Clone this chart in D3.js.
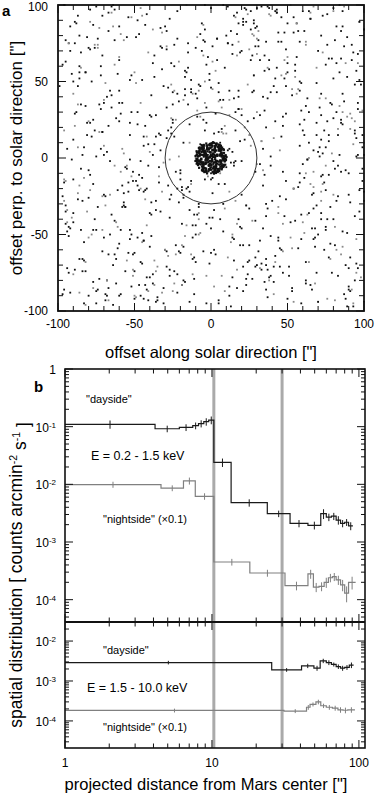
<!DOCTYPE html>
<html>
<head>
<meta charset="utf-8">
<script src="https://cdn.jsdelivr.net/npm/d3@7"></script>
<style>
  body { margin: 0; background: #fff; }
  svg { display: block; font-family: "Liberation Sans", Arial, Helvetica, sans-serif; }
</style>
</head>
<body>
<div id="chart"></div>
<script>
// ---- panel a: photon positions ----
// field photons, "xxyy": x and y on a 00..99 grid spanning -99..99 arcsec
const photonsFieldA = `
4783 0312 8857 2134 6591 1206 9368 3845 5622 7179 2903 8461 0638 6095 4417 9750 1574 7729 3386 5241
1927 7464 4109 9088 0843 6371 2715 5552 8297 3636 0180 6924 9559 4802 1367 8644 2413 5890 7931 3176
6655 1193 8338 3519 5072 9401 2246 0784 7328 4563 6110 1799 8951 3935 0477 7820 5366 2808 9942 4287
2504 5747 0281 8062 4625 1496 6833 9157 3214 7670 0989 5441 3706 8753 2026 6492 4318 9875 1660 7237
8569 3031 6216 1898 9654 4040 0587 7511 5178 2323 8149 6765 1094 4930 9282 3407 7056 2639 5921 0073
1392 5258 7974 4405 2836 6783 9021 0767 3649 6108 8434 1977 5517 0288 7345 4861 9602 3154 1098 8726
5813 9386 2442 7171 0560 3919 8295 5030 1603 9756 4372 6615 2984 7840 1109 5479 8747 3591 6233 2064
3448 0822 6699 9137 5311 2775 1458 7606 4589 8844 0327 6093 3862 7220 9953 2135 5081 8412 1770 6804
7776 4240 1503 5955 8684 0228 7014 3392 9463 2418 5796 1250 8131 4673 6586 3024 0667 9245 4008 5359
0430 6971 3762 8323 2247 5691 9839 4176 1107 7485 2954 8912 5268 1697 3514 8043 6329 0961 4788 9517
9159 2608 5587 1044 7319 4866 3402 8651 6134 0594 3821 7780 2045 9506 4371 6899 1437 5716 8352 3183
4021 8295 1829 6778 9965 1310 5984 2743 7672 4431 9262 0105 6390 3556 5038 8817 2574 7197 0726 5648
6285 1537 8550 3611 4793 8057 0324 6869 2216 5748 1483 7436 9003 4279 2860 6588 9712 1141 4975 3332
2906 7363 5118 9489 0932 6445 4178 1920 8399 3761 7009 5274 0653 8727 6094 2349 4565 7923 9601 1691
8641 4880 0696 2326 7872 3203 9261 5587 1039 6613 4170 9946 2722 7198 1818 8457 5883 0234 3767 6310
1797 6014 9535 4267 3108 8882 6947 1226 5358 8091 2542 4719 7477 0564 3630 9305 2151 6486 4915 8169
5433 3352 7073 0802 6257 2138 4690 9715 3981 1505 8566 2893 5828 9111 4375 0746 7620 3063 6744 1299
9564 1126 4410 8149 2796 5723 1607 7360 0242 4977 6417 8855 3586 1939 7902 5271 9894 4028 2357 6813
3818 7891 2644 6383 9027 4569 0853 3035 6996 9425 1888 5601 8340 4172 0449 7214 1358 6006 8780 4762
0779 5203 8967 1731 3950 7514 6198 8474 2411 3357 9832 1085 4663 6709 2289 5927 8241 3695 1419 9147
7252 2375 6021 9894 5406 0387 2839 4548 8769 1202 7778 6429 3116 9684 5043 1766 4008 8553 0636 2690
4811 9046 3585 1458 6879 8333 2005 5897 4124 7965 0513 3771 9399 2445 6221 8982 5460 1618 7473 0137
2090 6519 0232 7607 4341 1162 9476 3613 6655 5086 2947 8208 1534 5769 8696 4531 0387 6950 3204 9778
8345 3968 7197 3070 9723 5599 4828 0957 1880 6134 9291 2361 7005 4342 0816 3473 8025 2589 5164 6414
1426 5807 4654 8739 2188 6911 3566 7442 9218 0673 5202 4039 8479 2725 9957 6194 1847 7312 4284 1061`;

// second exposure: same "xxyy" format on a grid shifted by half a cell (-98..100 arcsec)
const photonsFieldB = `
6173 0384 8015 5325 3662 1648 7793 2403 4767 8821 1056 7187 3243 6414 1981 9609 5735 4470 8529 2896
3338 9630 1971 6492 0801 9177 5019 1365 8044 3897 6730 2523 5568 9991 4533 0252 7276 3102 1158 8320
7602 2756 5446 0213 8535 4054 6281 8929 3091 1509 7375 4944 0815 3657 9406 6640 2698 8761 5937 4485
0961 7097 3888 9260 4774 2307 0442 5683 7131 9750 3419 6098 1982 8237 5368 1423 4311 6547 9092 2753
5795 4424 1206 6881 8115 3492 9657 2910 6376 0141 8563 2033 4524 7403 1185 3870 9954 5229 0716 7844
9220 1961 6759 3135 1453 5926 7871 4238 0605 5188 2648 9413 6896 1376 8729 4758 3390 8066 2241 5507
2667 8543 4327 7997 6389 0564 3712 9991 2052 7017 4882 1569 8937 3050 5610 7695 0923 4139 6878 0431
6809 0689 9080 2418 5244 8131 1799 6055 4127 8962 0305 5552 3673 7219 2564 9314 6483 1808 4645 8570
4254 6115 2839 5764 9506 3385 6935 1074 7793 2238 5871 8326 0158 4787 7947 3132 1468 9297 3811 6522
8087 3572 7493 1129 4068 6716 2560 9407 5346 4684 1624 7190 9810 2133 6291 0877 8703 5651 2963 9938
0135 5334 9902 4573 1828 8658 5686 3246 6513 0866 9199 3942 7381 5963 2722 8206 4449 0474 7690 3756
4571 8998 3163 6652 7482 0904 4323 2133 9661 5829 3540 0675 6253 8008 1437 5188 7015 2324 8867 1701
8816 1450 5748 3805 2639 7295 9270 4918 1285 8451 6787 4316 2827 0392 9673 3944 6196 7860 5032 0679
2343 6706 0877 9586 6059 4742 3011 8164 5538 2703 7958 1467 5007 8948 4202 7061 0232 3680 9713 5893
6488 4177 8424 2040 3517 9873 1352 6581 0470 9292 4415 7330 1792 5571 3156 8619 2477 4942 0199 7528
1024 7639 4791 6161 8997 2920 5489 0225 8402 3945 2067 9783 6645 1816 7887 4534 3305 5869 9150 2364
5357 2218 9345 0616 7133 1551 8531 4799 2856 6376 8833 3257 0411 7480 4926 1992 9562 6714 3786 8009
9780 5865 2112 8484 4370 6297 0945 3839 7523 1714 5181 2604 9264 4036 6898 0455 7928 1379 5623 3241
3112 0428 6669 4946 1509 9035 7477 5758 2395 9935 0750 8197 4531 3659 8641 6111 1286 9437 2806 7075
7599 4693 3637 9658 2951 5268 1904 8786 6447 4260 7122 5948 1186 8323 2412 9767 4843 0593 6371 3918
1637 8154 5984 2722 9380 0712 6563 4009 3419 7782 0106 4972 8538 2295 5865 3080 9019 7256 4448 1288
5965 2810 0326 7390 5624 8589 4232 1671 9166 3008 6393 1921 5457 7874 0735 9303 3771 8226 2594 6734
3708 9581 7853 1233 6464 2146 8796 7123 0640 5399 4037 9064 2404 7841 3378 4850 7639 0985 8402 5057
8149 0936 4998 8975 0142 4427 2615 6394 5887 8555 2376 6810 4199 9765 1504 7287 5563 2931 0677 9225
0228 6362 2540 5504 8086 3779 9950 1862 4529 6626 9444 3558 7770 0812 5254 2738 8308 6498 4020 1967`;

// photons from the Mars disk, "rraa": radius (rr * 0.105") and position angle (aa * 3.6 deg)
const photonsDisk = `
9512 3047 7723 8865 4190 6631 9978 5804 2256 8419 7137 9353 6082 3871
8826 5558 9391 7004 4539 9617 6274 8148 3385 7762 9943 5429 8097 2618
7310 9684 6052 8733 5121 9266 4476 8590 7041 9815 6358 3007 8869 9530
6694 8211 9748 5385 7926 4663 9002 8357 6819 9135 7473 5040 8686 3152
9258 7701 5932 8578 9420 6945 8064 4308 7619 9787 6226 8840 5493 9971
4817 8955 7282 9516 6638 8003 5759 9224 7190 3844 8472 9661 6907 8127
9839 6379 8512 7056 9147 5288 8925 7630 9492 4675 8216 6753 9388 7820
5961 9034 7407 8299 6184 9719 7944 8651 3526 9097 6712 8438 7268 9582
8783 6419 9853 5071 8330 7592 9266 6128 8896 4743 9410 7980 6545 8169
9622 7345 8057 9935 5617 8706 6993 9179 7824 8452 4288 9565 7713 6036
8441 9880 6251 7598 9303 5839 8970 7112 9656 6389 8735 5022 9199 7466
7172 8537 9714 6896 8026 9444 7559 5163 9768 8301 6624 9077 7937 8690
9046 6702 8819 7281 9590 5344 8148 9923 6461 8877 7006 9333 5715 8542
6863 9498 7635 8184 5906 9051 8427 6778 9216 7399 8653 9782 6130 7514
9701 8088 5580 9467 7866 8343 6219 9638 8010 7754 9184 5996 8565 7247
8326 9157 7040 8614 9893 6583 8792 7375 9509 5237 8981 7680 9269 6456
1545 3012 2378 4561 0890 3627 4733 1969 2844 3981 4205 1132 2715 3555
4088 2659 3340 1517 4922 2795 3863 0743 4407 2126 3692 4870 1684 3218
2966 4139 1851 3474 4647 2502 3006 4393 1224 3757 2080 4616 3929 1408`;

const extractionRadius = 30;
const offsetTicks = [-100, -50, 0, 50, 100];

// ---- panel b: radial profiles (bin edges ["], values [counts arcmin^-2 s^-1]) ----
const softDayEdges = [1, 4.1, 6.0, 7.4, 8.1, 8.8, 9.5, 10.3, 13.5, 23.8, 34, 45, 55, 60, 65, 70, 75, 80, 85, 91];
const softDayValues = [0.11, 0.092, 0.097, 0.104, 0.113, 0.122, 0.13, 0.024, 0.0048, 0.0031, 0.0021, 0.00195, 0.0031, 0.0027, 0.0028, 0.0024, 0.0021, 0.0022, 0.0019];
const softDayErrors = [0.018, 0.012, 0.013, 0.014, 0.016, 0.018, 0.02, 0.004, 0.0007, 0.0004, 0.0003, 0.0003, 0.0006, 0.0004, 0.0004, 0.0004, 0.0003, 0.0003, 0.0003];

const softNightEdges = [1, 4.5, 6.4, 7.7, 10.3, 18.1, 31.4, 45, 49, 53.5, 58, 62, 66, 70, 75, 80, 85, 95];
const softNightValues = [0.0099, 0.0086, 0.0115, 0.0062, 0.00045, 0.00029, 0.000175, 0.00028, 0.000165, 0.00017, 0.0002, 0.00024, 0.00025, 0.00022, 0.00018, 0.00013, 0.0002];
const softNightErrors = [0.0012, 0.001, 0.0016, 0.0008, 0.00006, 0.00004, 0.00003, 0.00005, 0.00003, 0.00003, 0.00004, 0.00004, 0.00004, 0.00004, 0.00004, 0.00004, 0.00005];

const hardDayEdges = [1, 25.5, 40.7, 49.4, 54.5, 60, 65, 70, 75, 80, 86, 92];
const hardDayValues = [0.0029, 0.0019, 0.0024, 0.0021, 0.0032, 0.0029, 0.0026, 0.0023, 0.0021, 0.0022, 0.0025];
const hardDayErrors = [0.0003, 0.0002, 0.0003, 0.0003, 0.0004, 0.0004, 0.0003, 0.0003, 0.0003, 0.0003, 0.0004];

const hardNightEdges = [1, 30.9, 44, 46.5, 51, 55, 60, 66, 72, 78, 84, 94];
const hardNightValues = [0.000183, 0.000177, 0.00022, 0.00026, 0.0003, 0.00024, 0.00022, 0.00021, 0.00019, 0.000185, 0.00019];
const hardNightErrors = [0.00002, 0.00002, 0.00003, 0.00003, 0.00004, 0.00003, 0.00003, 0.00003, 0.00003, 0.00003, 0.00003];

const markerRadii = [10.3, 30];
const distanceTicks = [1, 10, 100];
const softTicks = [1, 1e-1, 1e-2, 1e-3, 1e-4];
const hardTicks = [1e-2, 1e-3, 1e-4];

function decodeField(str, origin) {
    return str.trim().split(/\s+/).map(s => ({
        x: +s.slice(0, 2) * 2 + origin,
        y: +s.slice(2, 4) * 2 + origin
    }));
}

function decodeDisk(str) {
    return str.trim().split(/\s+/).map(s => {
        const r = +s.slice(0, 2) * 0.105;
        const a = +s.slice(2, 4) * 3.6 * Math.PI / 180;
        return { x: r * Math.cos(a), y: r * Math.sin(a) };
    });
}

function logMinors(domain) {
    const out = [];
    const lo = Math.floor(Math.log10(domain[0]));
    const hi = Math.ceil(Math.log10(domain[1]));
    for (let e = lo; e <= hi; e++) {
        for (let m = 1; m < 10; m++) {
            const v = m * Math.pow(10, e);
            if (v >= domain[0] && v <= domain[1]) out.push(v);
        }
    }
    return out;
}

function addPowerLabel(sel, v) {
    if (v === 1) { sel.text("1"); return; }
    sel.text("10");
    sel.append("tspan")
        .attr("dy", "-0.5em")
        .style("font-size", "8px")
        .text(Math.round(Math.log10(v)));
}

const svg = d3.select("#chart").append("svg")
    .attr("width", 375)
    .attr("height", 794);

// ================= panel a =================
function drawPanelA() {
    const x = d3.scaleLinear().domain([-100, 100]).range([58, 364]);
    const y = d3.scaleLinear().domain([-100, 100]).range([311, 5]);
    const g = svg.append("g");

    const field = decodeField(photonsFieldA, -99).concat(decodeField(photonsFieldB, -98));
    const disk = decodeDisk(photonsDisk);

    g.selectAll(".field")
        .data(field)
        .enter()
        .append("rect")
        .attr("x", d => x(d.x) - 0.9)
        .attr("y", d => y(d.y) - 0.9)
        .attr("width", 1.8)
        .attr("height", 1.8)
        .attr("fill", (d, i) => i % 4 === 0 ? "#8a8a8a" : "#111");

    g.selectAll(".disk")
        .data(disk)
        .enter()
        .append("rect")
        .attr("x", d => x(d.x) - 1.1)
        .attr("y", d => y(d.y) - 1.1)
        .attr("width", 2.2)
        .attr("height", 2.2)
        .attr("fill", "#111");

    g.append("circle")
        .attr("cx", x(0))
        .attr("cy", y(0))
        .attr("r", x(extractionRadius) - x(0))
        .attr("fill", "none")
        .attr("stroke", "#333")
        .attr("stroke-width", 1);

    // ticks, inward on all sides
    const minor = d3.range(-100, 101, 10);
    minor.forEach(v => {
        const len = v % 50 === 0 ? 8 : 5;
        g.append("line").attr("x1", x(v)).attr("x2", x(v)).attr("y1", y(-100)).attr("y2", y(-100) - len).attr("stroke", "#111");
        g.append("line").attr("x1", x(v)).attr("x2", x(v)).attr("y1", y(100)).attr("y2", y(100) + len).attr("stroke", "#111");
        g.append("line").attr("y1", y(v)).attr("y2", y(v)).attr("x1", x(-100)).attr("x2", x(-100) + len).attr("stroke", "#111");
        g.append("line").attr("y1", y(v)).attr("y2", y(v)).attr("x1", x(100)).attr("x2", x(100) - len).attr("stroke", "#111");
    });

    g.append("rect")
        .attr("x", x(-100))
        .attr("y", y(100))
        .attr("width", x(100) - x(-100))
        .attr("height", y(-100) - y(100))
        .attr("fill", "none")
        .attr("stroke", "#111")
        .attr("stroke-width", 1.8);

    g.selectAll(".xlab")
        .data(offsetTicks)
        .enter()
        .append("text")
        .attr("x", d => x(d))
        .attr("y", 328)
        .attr("text-anchor", "middle")
        .style("font-size", "12px")
        .text(d => d);

    g.selectAll(".ylab")
        .data(offsetTicks)
        .enter()
        .append("text")
        .attr("x", 48)
        .attr("y", d => Math.max(y(d), 7))
        .attr("dy", "0.35em")
        .attr("text-anchor", "end")
        .style("font-size", "12px")
        .text(d => d);

    g.append("text")
        .attr("x", 211)
        .attr("y", 358)
        .attr("text-anchor", "middle")
        .style("font-size", "16.5px")
        .text("offset along solar direction [\"]");

    g.append("text")
        .attr("transform", "translate(22,158) rotate(-90)")
        .attr("text-anchor", "middle")
        .style("font-size", "17px")
        .text("offset perp. to solar direction [\"]");

    g.append("text")
        .attr("x", 2)
        .attr("y", 16)
        .style("font-size", "15px")
        .style("font-weight", "bold")
        .text("a");
}

// ================= panel b =================
function drawPanelB() {
    const left = 65, right = 365;
    const top = 369, mid = 622, bottom = 748;
    const x = d3.scaleLog().domain([1, 110]).range([left, right]);
    const ySoft = d3.scaleLog().domain([4.1e-5, 1]).range([mid, top]);
    const yHard = d3.scaleLog().domain([2.1e-5, 3e-2]).range([bottom, mid]);
    const g = svg.append("g");

    // Mars radius markers
    markerRadii.forEach(r => {
        g.append("line")
            .attr("x1", x(r)).attr("x2", x(r))
            .attr("y1", top).attr("y2", bottom)
            .attr("stroke", "#aaa")
            .attr("stroke-width", 3);
    });

    function drawProfile(edges, values, errors, yScale, color) {
        const pts = edges.map((e, i) => [e, values[Math.min(i, values.length - 1)]]);
        const line = d3.line()
            .x(d => x(d[0]))
            .y(d => yScale(d[1]))
            .curve(d3.curveStepAfter);
        g.append("path")
            .attr("d", line(pts))
            .attr("fill", "none")
            .attr("stroke", color)
            .attr("stroke-width", 1.2);
        values.forEach((v, i) => {
            const c = Math.sqrt(edges[i] * edges[i + 1]);
            g.append("line")
                .attr("x1", x(c)).attr("x2", x(c))
                .attr("y1", yScale(v + errors[i]))
                .attr("y2", yScale(Math.max(v - errors[i], v * 0.5)))
                .attr("stroke", color)
                .attr("stroke-width", 1);
        });
    }

    drawProfile(softDayEdges, softDayValues, softDayErrors, ySoft, "#1a1a1a");
    drawProfile(softNightEdges, softNightValues, softNightErrors, ySoft, "#808080");
    drawProfile(hardDayEdges, hardDayValues, hardDayErrors, yHard, "#1a1a1a");
    drawProfile(hardNightEdges, hardNightValues, hardNightErrors, yHard, "#808080");

    // x ticks
    const xMinor = logMinors([1, 110]);
    xMinor.forEach(v => {
        const len = distanceTicks.includes(v) ? 8 : 4.5;
        [[top, 1], [mid, -1], [mid, 1], [bottom, -1]].forEach(([yy, dir]) => {
            g.append("line")
                .attr("x1", x(v)).attr("x2", x(v))
                .attr("y1", yy).attr("y2", yy + dir * len)
                .attr("stroke", "#111");
        });
    });

    // y ticks
    function yTicks(scale, majors) {
        logMinors(scale.domain()).forEach(v => {
            const len = majors.includes(v) ? 8 : 4;
            g.append("line").attr("x1", left).attr("x2", left + len).attr("y1", scale(v)).attr("y2", scale(v)).attr("stroke", "#111");
            g.append("line").attr("x1", right).attr("x2", right - len).attr("y1", scale(v)).attr("y2", scale(v)).attr("stroke", "#111");
        });
        g.selectAll(null)
            .data(majors)
            .enter()
            .append("text")
            .attr("x", 56)
            .attr("y", d => scale(d) + 5)
            .attr("text-anchor", "end")
            .style("font-size", "12px")
            .each(function (d) { addPowerLabel(d3.select(this), d); });
    }
    yTicks(ySoft, softTicks);
    yTicks(yHard, hardTicks);

    // frame
    g.append("rect")
        .attr("x", left).attr("y", top)
        .attr("width", right - left).attr("height", bottom - top)
        .attr("fill", "none")
        .attr("stroke", "#111")
        .attr("stroke-width", 1.6);
    g.append("line")
        .attr("x1", left).attr("x2", right)
        .attr("y1", mid).attr("y2", mid)
        .attr("stroke", "#111")
        .attr("stroke-width", 2);

    g.selectAll(null)
        .data(distanceTicks)
        .enter()
        .append("text")
        .attr("x", d => x(d))
        .attr("y", 767)
        .attr("text-anchor", "middle")
        .style("font-size", "12px")
        .text(d => d);

    g.append("text")
        .attr("x", 206)
        .attr("y", 790)
        .attr("text-anchor", "middle")
        .style("font-size", "16.5px")
        .text("projected distance from Mars center [\"]");

    const yt = g.append("text")
        .attr("transform", "translate(22,575) rotate(-90)")
        .attr("text-anchor", "middle")
        .style("font-size", "17.5px");
    yt.append("tspan").text("spatial distribution  [ counts arcmin");
    yt.append("tspan").attr("dy", "-0.5em").style("font-size", "10.5px").text("-2");
    yt.append("tspan").attr("dy", "0.5em").text(" s");
    yt.append("tspan").attr("dy", "-0.5em").style("font-size", "10.5px").text("-1");
    yt.append("tspan").attr("dy", "0.5em").text(" ]");

    // annotations
    const notes = [
        { t: "\"dayside\"", x: 86, y: 403, s: 11 },
        { t: "E = 0.2 - 1.5 keV", x: 91, y: 460, s: 12.5 },
        { t: "\"nightside\" (×0.1)", x: 103, y: 523, s: 11 },
        { t: "\"dayside\"", x: 103, y: 654, s: 11 },
        { t: "E = 1.5 - 10.0 keV", x: 87, y: 692, s: 12.5 },
        { t: "\"nightside\" (×0.1)", x: 103, y: 731, s: 11 }
    ];
    g.selectAll(null)
        .data(notes)
        .enter()
        .append("text")
        .attr("x", d => d.x)
        .attr("y", d => d.y)
        .style("font-size", d => d.s + "px")
        .text(d => d.t);

    g.append("text")
        .attr("x", 34)
        .attr("y", 392)
        .style("font-size", "15px")
        .style("font-weight", "bold")
        .text("b");
}

drawPanelA();
drawPanelB();
</script>
</body>
</html>
